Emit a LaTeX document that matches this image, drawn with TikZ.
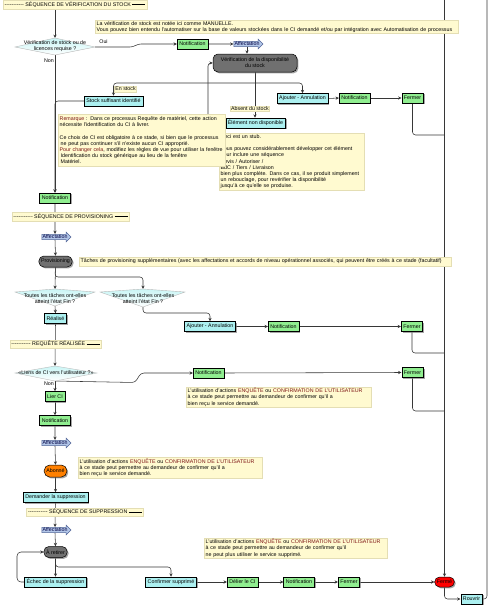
\documentclass[tikz,border=0pt]{standalone}
\usepackage{fontspec}
\setmainfont{Liberation Sans}
\usetikzlibrary{shapes.arrows,shadows,arrows.meta}
\definecolor{boxgreen}{RGB}{144,238,144}
\definecolor{boxcyan}{RGB}{172,240,240}
\definecolor{darkbox}{RGB}{112,112,112}
\definecolor{notefill}{RGB}{255,250,208}
\definecolor{noteline}{RGB}{228,222,180}
\definecolor{affill}{RGB}{178,198,232}
\definecolor{afline}{RGB}{80,100,150}
\definecolor{keyred}{RGB}{125,20,20}
\definecolor{linegray}{RGB}{55,55,55}
\newcommand\mydashleft{-{}-{}-{}-{}-{}-{}-{}-{}-{}-{}-{}}
\newcommand\mydashright{\rule[1.6pt]{13pt}{0.4pt}}
\pgfdeclarelayer{bg}
\pgfsetlayers{bg,main}
\tikzset{
 conn/.style={draw=linegray, line width=0.55pt, rounded corners=3pt},
 arr/.style={conn, -{Stealth[length=3.4pt,width=3.2pt]}},
 boxbase/.style={draw=black, line width=0.5pt, inner xsep=2.2pt, inner ysep=0pt, minimum height=10pt,
   drop shadow={shadow xshift=1.4pt, shadow yshift=-1.4pt, fill=black!50, opacity=0.7}},
 greenbox/.style={boxbase, fill=boxgreen},
 cyanbox/.style={boxbase, fill=boxcyan},
 greypill/.style={boxbase, fill=darkbox, rounded corners=5pt, minimum height=11pt},
 orangepill/.style={boxbase, fill=orange, rounded corners=5.5pt, minimum height=12pt},
 redpill/.style={boxbase, fill=red, rounded corners=5pt, minimum height=10pt},
 affect/.style={single arrow, draw=afline, fill=affill, line width=0.5pt, inner sep=0.5pt,
   single arrow head extend=2pt, minimum width=9.5pt, text=black!75!blue},
 note/.style={fill=notefill, draw=noteline, line width=0.4pt, anchor=north west, inner xsep=1.5pt, inner ysep=0.6pt, align=left},
 banner/.style={fill=notefill, draw=noteline, line width=0.4pt, inner xsep=1.5pt, inner ysep=0.5pt, minimum height=8.5pt},
 tag/.style={fill=notefill, draw=noteline, line width=0.4pt, inner sep=0.8pt},
 decision/.style={draw=gray!55, line width=0.4pt, top color=boxcyan!65, bottom color=white},
 dtext/.style={align=center, inner sep=0pt},
 lbl/.style={inner sep=0pt},
}
\begin{document}
\begin{tikzpicture}[x=1pt,y=-1pt,font=\fontsize{5.3}{6.1}\selectfont]
\useasboundingbox (0,0) rectangle (490,608);

% ---------- Stock verification ----------
\node[banner] (b1) at (75,4.5) {\mydashleft~SÉQUENCE DE VÉRIFICATION DU STOCK~\mydashright};

\draw[decision] (15,47) coordinate (dqW) -- (55,38) coordinate (dqN) -- (95,47) coordinate (dqE) -- (55,55) coordinate (dqS) -- cycle;
\node[dtext] (dqT) at (55,46.5) {Vérification de stock ou de\\licences requise ?};
\node[lbl] (oui) at (103.5,42) {Oui};
\node[lbl] (non1) at (49,60.5) {Non};

\node[greenbox] (n1) at (192.5,44) {Notification};
\node[affect] (a1) at (247,44) {Affectation};
\node[greypill, rounded corners=5pt, minimum width=84pt, minimum height=18pt, align=center] (v1) at (255,63) {Vérification de la disponibilité\\du stock};
\coordinate (j1) at (255,83);
\node[cyanbox] (aj1) at (302.5,98.5) {Ajouter - Annulation};
\node[greenbox] (n2) at (354.5,98) {Notification};
\node[greenbox] (f1) at (412.5,98) {Fermer};
\node[tag] (t1) at (250,108.5) {Absent du stock};
\node[cyanbox] (en) at (255.5,123) {Élément non disponible};
\node[tag] (t2) at (125.5,89) {En stock};
\node[cyanbox] (ss) at (113.5,101) {Stock suffisant identifié};
\node[greenbox] (n3) at (55,198) {Notification};

\node[note, text width=360pt, minimum height=13pt] (noteA) at (95,20) {La vérification de stock est notée ici comme MANUELLE.\\
Vous pouvez bien entendu l'automatiser sur la base de valeurs stockées dans le CI demandé et/ou par intégration avec Automatisation de processus};

\node[note, text width=142pt, minimum height=57pt] (noteStub) at (219,133) {Ceci est un stub.\\[6.1pt]
Vous pouvez considérablement développer cet élément\\
pour inclure une séquence\\
Devis / Autoriser /\\
BdC / Tiers / Livraison\\
bien plus complète. Dans ce cas, il se produit simplement\\
un rebouclage, pour revérifier la disponibilité\\
jusqu'à ce qu'elle se produise.};

\node[note, text width=164pt, minimum height=52pt] (noteRem) at (58,114) {{\color{keyred}Remarque} : Dans ce processus Requête de matériel, cette action\\
nécessite l'identification du CI à livrer.\\[6.1pt]
Ce choix de CI est obligatoire à ce stade, si bien que le processus\\
\hspace*{1pt}ne peut pas continuer s'il n'existe aucun CI approprié.\\
{\color{keyred}Pour changer cela}, modifiez les règles de vue pour utiliser la fenêtre\\
\hspace*{1pt}Identification du stock générique au lieu de la fenêtre\\
\hspace*{1pt}Matériel.};

% ---------- Provisioning ----------
\node[banner] (b2) at (70.5,216.5) {\mydashleft~SÉQUENCE DE PROVISIONING~\mydashright};
\node[affect] (a2) at (55,237) {Affectation};
\node[greypill] (p) at (55.5,261.5) {Provisioning};
\node[note, text width=369pt, minimum height=8.5pt] (noteProv) at (79,257) {Tâches de provisioning supplémentaires (avec les affectations et accords de niveau opérationnel associés, qui peuvent être créés à ce stade (facultatif)};

\draw[decision] (15,292) coordinate (d2W) -- (55,289) coordinate (d2N) -- (95,292) coordinate (d2E) -- (55,306) coordinate (d2S) -- cycle;
\node[dtext] (d2T) at (55,298.5) {Toutes les tâches ont-elles\\atteint l'état Fin ?};
\draw[decision] (100,292) coordinate (d3W) -- (143,289) coordinate (d3N) -- (185,292) coordinate (d3E) -- (143,307) coordinate (d3S) -- cycle;
\node[dtext] (d3T) at (143,298.5) {Toutes les tâches ont-elles\\atteint l'état Fin ?};

\node[cyanbox] (r) at (55.5,318.5) {Réalisé};
\node[cyanbox] (aj2) at (210,326.5) {Ajouter - Annulation};
\node[greenbox] (n4) at (283.5,326.5) {Notification};
\node[greenbox] (f2) at (412,326.5) {Fermer};

% ---------- Request fulfilled ----------
\node[banner] (b3) at (55.5,344) {\mydashleft~REQUÊTE RÉALISÉE~\mydashright};
\draw[decision] (15,373) coordinate (d4W) -- (55,366) coordinate (d4N) -- (97,373) coordinate (d4E) -- (55,381) coordinate (d4S) -- cycle;
\node[dtext] (d4T) at (56,373) {«Liens de CI vers l'utilisateur ?»};
\node[lbl] (non2) at (49,383.5) {Non};
\node[greenbox] (n5) at (208.5,373) {Notification};
\node[greenbox] (f3) at (412.5,372.5) {Fermer};
\node[note, text width=182pt, minimum height=20pt] (noteL) at (186,387) {L'utilisation d'actions {\color{keyred}ENQUÊTE} ou {\color{keyred}CONFIRMATION DE L'UTILISATEUR}\\
à ce stade peut permettre au demandeur de confirmer qu'il a\\
bien reçu le service demandé.};

\node[greenbox] (lc) at (55,396.5) {Lier CI};
\node[greenbox] (n6) at (55,420.5) {Notification};
\node[affect] (a3) at (55,443) {Affectation};
\node[orangepill] (ab) at (55.5,471) {Abonné};
\node[note, text width=181pt, minimum height=21pt] (noteAb) at (78,457) {L'utilisation d'actions {\color{keyred}ENQUÊTE} ou {\color{keyred}CONFIRMATION DE L'UTILISATEUR}\\
à ce stade peut permettre au demandeur de confirmer qu'il a\\
bien reçu le service demandé.};
\node[cyanbox] (dm) at (55.5,497.5) {Demander la suppression};

% ---------- Deletion ----------
\node[banner] (b4) at (85,512) {\mydashleft~SÉQUENCE DE SUPPRESSION~\mydashright};
\node[affect] (a4) at (55,530) {Affectation};
\node[greypill] (ar) at (55.5,552) {À retirer};
\node[cyanbox] (ec) at (55.5,582) {Échec de la suppression};
\node[cyanbox] (cf) at (171,582) {Confirmer supprimé};
\node[greenbox] (dl) at (242.5,582) {Délier le CI};
\node[greenbox] (n7) at (299,582) {Notification};
\node[greenbox] (f4) at (349,582) {Fermer};
\node[redpill] (fe) at (444.5,582) {Fermé};
\node[cyanbox] (ro) at (471.5,599) {Rouvrir};
\node[note, text width=180pt, minimum height=20pt] (noteS) at (204,538) {L'utilisation d'actions {\color{keyred}ENQUÊTE} ou {\color{keyred}CONFIRMATION DE L'UTILISATEUR}\\
à ce stade peut permettre au demandeur de confirmer qu'il\\
ne peut plus utiliser le service supprimé.};

\coordinate (topA) at (444.5,0);
\coordinate (topB) at (487,0);

% ---------- Connectors ----------
\begin{pgfonlayer}{bg}
\draw[arr] (b1.south -| dqN) -- (dqN);
\draw[arr] (dqS) -- (n3.north);
\draw[arr] (dqE) -- (133,47) -- (138,44) -- (n1.west);
\draw[arr] (n1.east) -- (a1.west);
\draw[arr] (a1.south) -- (a1.south |- v1.north);
\draw[conn] (v1.south) -- (j1);
\draw[arr] (j1) -| (aj1.north);
\draw[arr] (j1) -| (ss.north);
\draw[arr] (j1) -- (j1 |- en.north);
\draw[arr] (aj1.east) -- (n2.west);
\draw[arr] (n2.east) -- (f1.west);
\draw[conn] (f1.south) |- (topA |- 0,135);
\draw[arr] (en.west) -- (208,123) -- (208,63) -- (v1.west);
\draw[arr] (ss.west) -| (n3.north);
\draw[arr] (n3.south) -- (a2.north);
\draw[arr] (a2.south) -- (p.north);
\draw[arr] (p.south) -- (d2N);
\draw[arr] (p.south) -- (55,277) -| (d3N);
\draw[arr] (d2S) -- (r.north);
\draw[arr] (d3S) -- (143,313) -| (aj2.north);
\draw[arr] (aj2.east) -- (n4.west);
\draw[arr] (n4.east) -- (f2.west);
\draw[conn] (f2.south) |- (topA |- 0,353);
\draw[arr] (r.south) -- (d4N);
\draw[arr] (d4S) -- (lc.north);
\draw[arr] (d4S) -- (135,382.5) -- (141,373) -- (n5.west);
\draw[arr] (n5.east) -- (f3.west);
\draw[conn] (f3.south) |- (topA |- 0,411);
\draw[arr] (lc.south) -- (n6.north);
\draw[arr] (n6.south) -- (a3.north);
\draw[arr] (a3.south) -- (ab.north);
\draw[arr] (ab.south) -- (dm.north);
\draw[arr] (dm.south) -- (a4.north);
\draw[arr] (a4.south) -- (ar.north);
\draw[arr] (ar.south) -- (ec.north);
\draw[arr] (ar.south) -- (55.5,567) -| (cf.north);
\draw[arr, rounded corners=4pt] (ec.west) -- (17,582) -- (17,552) -- (ar.west);
\draw[arr] (cf.east) -- (dl.west);
\draw[arr] (dl.east) -- (n7.west);
\draw[arr] (n7.east) -- (f4.west);
\draw[arr] (f4.east) -- (fe.west);
\draw[arr] (topA) -- (fe.north);
\draw[arr] (fe.south) |- (ro.west);
\draw[conn] (ro.east) -| (topB);
\end{pgfonlayer}
\end{tikzpicture}
\end{document}
